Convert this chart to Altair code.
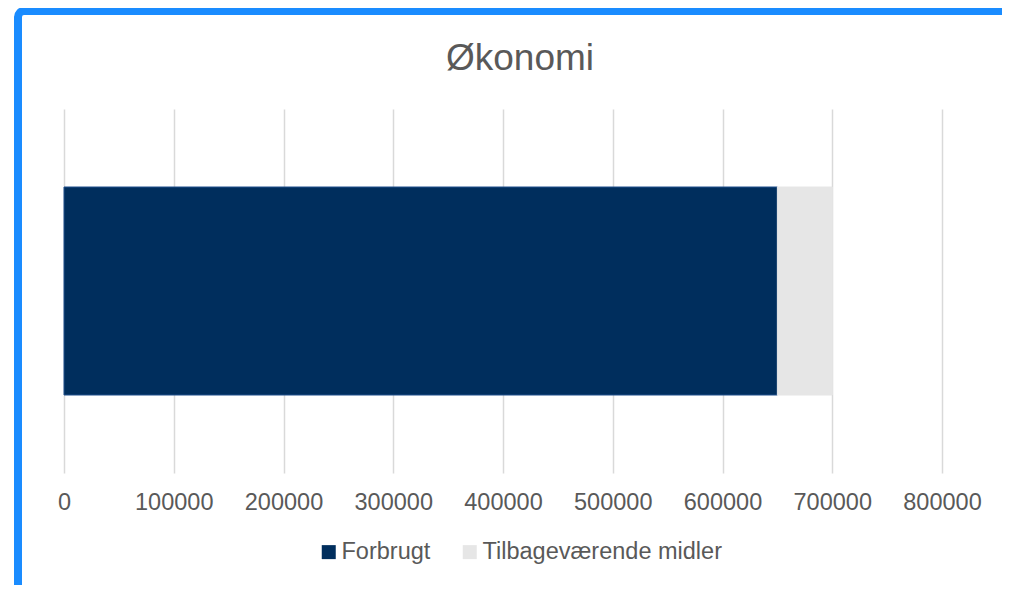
import altair as alt
import pandas as pd

series = ["Forbrugt", "Tilbageværende midler"]
values = [650000, 50000]
category = ["Økonomi", "Økonomi"]
order = [0, 1]
tick_values = [0, 100000, 200000, 300000, 400000, 500000, 600000, 700000, 800000]

colors = ["#002E5D", "#E6E6E6"]
FONT = "Liberation Sans"
TXT = "#595959"

df = pd.DataFrame({"cat": category, "series": series, "value": values, "ord": order})

bars = alt.Chart(df).mark_bar(strokeWidth=1).encode(
    x=alt.X(
        "value:Q",
        stack="zero",
        scale=alt.Scale(domain=[0, 800000], nice=False),
        axis=alt.Axis(
            values=tick_values,
            format="d",
            title=None,
            grid=True,
            gridColor="#D9D9D9",
            gridWidth=1.5,
            domain=False,
            ticks=False,
            tickSize=0,
            labelPadding=17,
            labelFontSize=23.5,
            labelFont=FONT,
            labelColor=TXT,
            labelOverlap=False,
            labelFlush=False,
        ),
    ),
    y=alt.Y("cat:N", axis=None, scale=alt.Scale(paddingInner=0, paddingOuter=0.375)),
    color=alt.Color(
        "series:N",
        scale=alt.Scale(domain=series, range=colors),
        legend=alt.Legend(
            title=None,
            orient="none",
            direction="horizontal",
            legendX=253,
            legendY=431,
            symbolType="square",
            symbolSize=196,
            symbolStrokeWidth=0,
            labelFont=FONT,
            labelFontSize=23.5,
            labelColor=TXT,
            labelOffset=1,
            labelLimit=400,
            columnPadding=27,
            padding=0,
        ),
    ),
    stroke=alt.condition(
        alt.datum.series == "Forbrugt", alt.value("#1F4E8C"), alt.value("#E6E6E6")
    ),
    order=alt.Order("ord:Q"),
)

frame_df = pd.DataFrame({"f": [0]})
frame = alt.Chart(frame_df).mark_rect(
    fill="transparent", stroke="#1A8CFF", strokeWidth=8, cornerRadius=6
).encode(
    x=alt.value(-46),
    x2=alt.value(980),
    y=alt.value(-98),
    y2=alt.value(520),
)

chart = alt.layer(bars, frame).properties(
    width=878,
    height=364,
    padding={"left": 56, "top": 101, "right": 60, "bottom": 112},
    autosize=alt.AutoSizeParams(type="none"),
    title=alt.TitleParams(
        "Økonomi",
        font=FONT,
        fontSize=37,
        fontWeight="normal",
        color=TXT,
        anchor="middle",
        frame="group",
        baseline="top",
        dx=17,
        dy=71,
        offset=0,
    ),
).configure(background="white", view=alt.ViewConfig(stroke=None))

chart.save("out.html", embed_options={"renderer": "svg", "actions": False})
